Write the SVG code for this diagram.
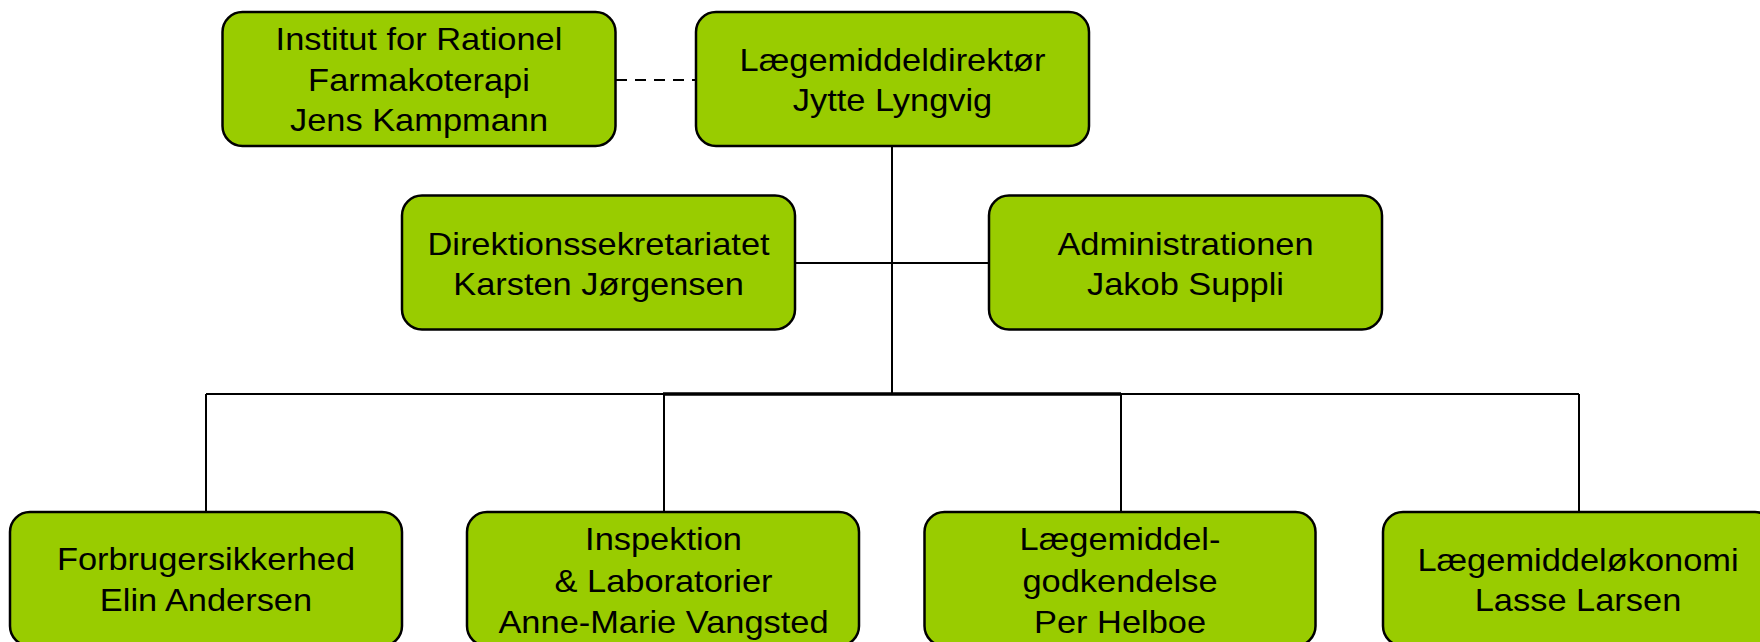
<svg xmlns="http://www.w3.org/2000/svg" width="1760" height="642" viewBox="0 0 1760 642">
<style>
.box{fill:#99CC00;stroke:#000;stroke-width:2.5}
.lbl{font-family:"Liberation Sans",Arial,sans-serif;font-size:32px;fill:#000;text-anchor:middle}
.ln{stroke:#000;stroke-width:2;fill:none}
</style>
<rect width="1760" height="642" fill="#fff"/>
<g id="connectors">
<line class="ln" x1="616" y1="80" x2="696" y2="80" stroke-dasharray="11 8"/>
<line class="ln" x1="892" y1="146" x2="892" y2="394"/>
<line class="ln" x1="795" y1="263" x2="989" y2="263"/>
<line class="ln" x1="206" y1="394" x2="1579" y2="394"/>
<line x1="663" y1="394" x2="1121" y2="394" stroke="#000" stroke-width="3.5"/>
<line class="ln" x1="206" y1="394" x2="206" y2="512"/>
<line class="ln" x1="664" y1="394" x2="664" y2="512"/>
<line class="ln" x1="1121" y1="394" x2="1121" y2="512"/>
<line class="ln" x1="1579" y1="394" x2="1579" y2="512"/>
</g>
<g id="institut">
<rect class="box" x="222.5" y="12" width="393" height="134" rx="20"/>
<text class="lbl" transform="translate(419 0) scale(1.075 1)"><tspan x="0" y="50">Institut for Rationel</tspan><tspan x="0" y="91">Farmakoterapi</tspan><tspan x="0" y="131.5">Jens Kampmann</tspan></text>
</g>
<g id="direktor">
<rect class="box" x="696" y="12" width="393" height="134" rx="20"/>
<text class="lbl" transform="translate(892.5 0) scale(1.075 1)"><tspan x="0" y="71">Lægemiddeldirektør</tspan><tspan x="0" y="111.5">Jytte Lyngvig</tspan></text>
</g>
<g id="direktionssekretariatet">
<rect class="box" x="402" y="195.5" width="393" height="134" rx="20"/>
<text class="lbl" transform="translate(598.5 0) scale(1.075 1)"><tspan x="0" y="255">Direktionssekretariatet</tspan><tspan x="0" y="295.5">Karsten Jørgensen</tspan></text>
</g>
<g id="administrationen">
<rect class="box" x="989" y="195.5" width="393" height="134" rx="20"/>
<text class="lbl" transform="translate(1185.5 0) scale(1.075 1)"><tspan x="0" y="255">Administrationen</tspan><tspan x="0" y="295.5">Jakob Suppli</tspan></text>
</g>
<g id="forbrugersikkerhed">
<rect class="box" x="10" y="512" width="392" height="134" rx="20"/>
<text class="lbl" transform="translate(206 0) scale(1.075 1)"><tspan x="0" y="570">Forbrugersikkerhed</tspan><tspan x="0" y="611">Elin Andersen</tspan></text>
</g>
<g id="inspektion">
<rect class="box" x="467" y="512" width="392" height="134" rx="20"/>
<text class="lbl" transform="translate(663.5 0) scale(1.075 1)"><tspan x="0" y="550.5">Inspektion</tspan><tspan x="0" y="592">&amp; Laboratorier</tspan><tspan x="0" y="633.5">Anne-Marie Vangsted</tspan></text>
</g>
<g id="godkendelse">
<rect class="box" x="924.5" y="512" width="391" height="134" rx="20"/>
<text class="lbl" transform="translate(1120 0) scale(1.075 1)"><tspan x="0" y="550.5">Lægemiddel-</tspan><tspan x="0" y="592">godkendelse</tspan><tspan x="0" y="633.5">Per Helboe</tspan></text>
</g>
<g id="okonomi">
<rect class="box" x="1383" y="512" width="392" height="134" rx="20"/>
<text class="lbl" transform="translate(1578 0) scale(1.075 1)"><tspan x="0" y="571">Lægemiddeløkonomi</tspan><tspan x="0" y="611.5">Lasse Larsen</tspan></text>
</g>
</svg>
